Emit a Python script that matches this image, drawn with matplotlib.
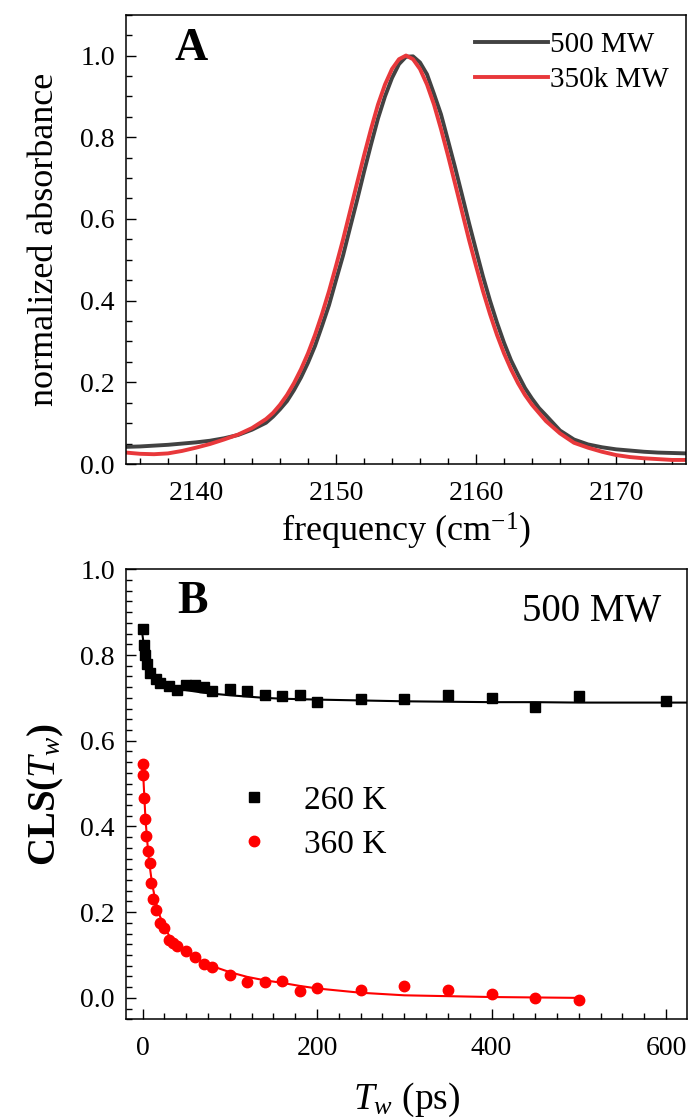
import matplotlib
matplotlib.use("Agg")
import matplotlib.pyplot as plt
from matplotlib.ticker import MultipleLocator

plt.rcParams['font.family'] = ['Liberation Serif', 'DejaVu Serif']
plt.rcParams['mathtext.fontset'] = 'custom'
plt.rcParams['mathtext.rm'] = 'Liberation Serif'
plt.rcParams['mathtext.it'] = 'Liberation Serif:italic'
plt.rcParams['mathtext.bf'] = 'Liberation Serif:bold'

# panel A: IR spectra (1 cm-1 steps in the wings, 0.5 near the peak)
freq = [2135, 2136, 2137, 2138, 2139, 2140, 2141, 2142, 2143, 2144,
        2145, 2145.5, 2146, 2146.5, 2147, 2147.5, 2148, 2148.5, 2149, 2149.5,
        2150, 2150.5, 2151, 2151.5, 2152, 2152.5, 2153, 2153.5, 2154, 2154.5,
        2155, 2155.5, 2156, 2156.5, 2157, 2157.5, 2158, 2158.5, 2159, 2159.5,
        2160, 2160.5, 2161, 2161.5, 2162, 2162.5, 2163, 2163.5, 2164, 2164.5,
        2165, 2166, 2167, 2168, 2169, 2170, 2171, 2172, 2173, 2174, 2175]
abs_500 = [0.042, 0.043, 0.045, 0.047, 0.050, 0.053, 0.057, 0.063, 0.071, 0.084,
           0.101, 0.116, 0.134, 0.154, 0.181, 0.212, 0.248, 0.289, 0.338, 0.389,
           0.450, 0.510, 0.578, 0.645, 0.715, 0.782, 0.846, 0.900, 0.945, 0.979,
           0.997, 0.998, 0.983, 0.954, 0.906, 0.856, 0.792, 0.727, 0.659, 0.590,
           0.524, 0.459, 0.400, 0.346, 0.297, 0.254, 0.219, 0.186, 0.160, 0.137,
           0.119, 0.082, 0.060, 0.048, 0.041, 0.036, 0.033, 0.030, 0.028, 0.027,
           0.026]
abs_350k = [0.028, 0.025, 0.024, 0.026, 0.032, 0.040, 0.049, 0.060, 0.072, 0.088,
            0.110, 0.125, 0.145, 0.169, 0.198, 0.232, 0.271, 0.316, 0.367, 0.423,
            0.485, 0.549, 0.618, 0.687, 0.755, 0.820, 0.880, 0.929, 0.967, 0.991,
            1.000, 0.991, 0.967, 0.929, 0.880, 0.820, 0.755, 0.687, 0.618, 0.549,
            0.485, 0.423, 0.367, 0.316, 0.271, 0.232, 0.198, 0.169, 0.145, 0.125,
            0.105, 0.075, 0.052, 0.040, 0.030, 0.022, 0.017, 0.014, 0.012, 0.010,
            0.010]

# panel B: CLS decays
tw_260 = [0, 2, 3, 5, 8, 15, 20, 30, 40, 50, 60, 70, 80, 100, 120, 140, 160, 180,
          200, 250, 300, 350, 400, 450, 500, 600]
cls_260 = [0.860, 0.824, 0.800, 0.778, 0.758, 0.743, 0.735, 0.727, 0.719, 0.729,
           0.731, 0.725, 0.717, 0.721, 0.715, 0.707, 0.705, 0.707, 0.690, 0.697,
           0.697, 0.707, 0.700, 0.678, 0.705, 0.692]
fit_tw_260 = [0, 1, 2, 3, 5, 8, 15, 20, 30, 40, 50, 60, 70, 80, 100, 120, 140, 160,
              180, 200, 250, 300, 350, 400, 450, 500, 600, 625]
fit_260 = [0.845, 0.830, 0.815, 0.800, 0.780, 0.762, 0.742, 0.735, 0.727, 0.722,
           0.718, 0.715, 0.712, 0.710, 0.706, 0.703, 0.700, 0.698, 0.697, 0.696,
           0.694, 0.692, 0.691, 0.690, 0.690, 0.689, 0.689, 0.689]

tw_360 = [0, 1, 2, 3, 4, 6, 8, 10, 12, 15, 20, 25, 30, 35, 40, 50, 60, 70, 80, 100,
          120, 140, 160, 180, 200, 250, 300, 350, 400, 450, 500]
cls_360 = [0.545, 0.520, 0.466, 0.418, 0.377, 0.343, 0.315, 0.268, 0.231, 0.204,
           0.174, 0.164, 0.136, 0.128, 0.121, 0.110, 0.095, 0.078, 0.072, 0.054,
           0.038, 0.038, 0.039, 0.016, 0.023, 0.019, 0.027, 0.018, 0.008, 0.000,
           -0.004]
fit_360 = [0.550, 0.510, 0.470, 0.430, 0.400, 0.350, 0.310, 0.280, 0.255, 0.225,
           0.190, 0.165, 0.147, 0.134, 0.123, 0.107, 0.094, 0.083, 0.074, 0.060,
           0.049, 0.041, 0.035, 0.028, 0.022, 0.012, 0.006, 0.004, 0.002, 0.001,
           0.000]

gray = '#424242'
red = '#e8383b'

fig = plt.figure(figsize=(6.9, 11.2), dpi=100)
axA = fig.add_axes([0.1826, 0.5857, 0.8116, 0.4012])
axB = fig.add_axes([0.1826, 0.0899, 0.8130, 0.4018])


def style(ax):
    for s in ax.spines.values():
        s.set_linewidth(1.1)
    ax.tick_params(which='both', direction='in', top=False, right=False,
                   labelsize=20, width=1.0, pad=8)
    ax.tick_params(axis='x', which='both', pad=12)
    ax.tick_params(which='major', length=7.5)
    ax.tick_params(which='minor', length=4.5)


# ---- A ----
axA.plot(freq, abs_500, color=gray, lw=2.8, label='500 MW')
axA.plot(freq, abs_350k, color=red, lw=2.8, label='350k MW')
axA.set_xlim(2135, 2175)
axA.set_ylim(0, 1.1)
axA.xaxis.set_major_locator(MultipleLocator(10))
axA.xaxis.set_minor_locator(MultipleLocator(2))
axA.yaxis.set_major_locator(MultipleLocator(0.2))
axA.yaxis.set_minor_locator(MultipleLocator(0.05))
axA.yaxis.set_major_formatter(lambda v, p: f'{v:.1f}')
style(axA)
axA.set_xlabel('frequency (cm$^{-1}$)', fontsize=26, labelpad=4)
axA.set_ylabel('normalized absorbance', fontsize=26, labelpad=14)
axA.text(0.087, 0.899, 'A', transform=axA.transAxes, fontsize=33,
         fontweight='bold')
axA.legend(loc='upper right', bbox_to_anchor=(0.97, 0.962), frameon=False,
           fontsize=21, handlelength=2.5, handletextpad=0.1, labelspacing=0.3,
           borderpad=0, borderaxespad=0)

# ---- B ----
axB.plot(fit_tw_260, fit_260, color='black', lw=1.5)
axB.plot(tw_260, cls_260, 's', color='black', ms=7, ls='none', label='260 K')
axB.plot(tw_360, fit_360, color='#ff0000', lw=1.5)
axB.plot(tw_360, cls_360, 'o', color='#ff0000', ms=7.5, ls='none', label='360 K')
axB.set_xlim(-19, 624)
axB.set_ylim(-0.05, 1.0)
axB.xaxis.set_major_locator(MultipleLocator(200))
axB.xaxis.set_minor_locator(MultipleLocator(25))
axB.yaxis.set_major_locator(MultipleLocator(0.2))
axB.yaxis.set_minor_locator(MultipleLocator(0.025))
axB.yaxis.set_major_formatter(lambda v, p: f'{v:.1f}')
style(axB)
axB.set_xlabel('$T_w$ (ps)', fontsize=27, labelpad=14)
axB.set_ylabel(r'$\mathbf{CLS(}T_w\mathbf{)}$', fontsize=28, labelpad=10)
axB.text(0.091, 0.903, 'B', transform=axB.transAxes, fontsize=33,
         fontweight='bold')
axB.text(0.955, 0.885, '500 MW', transform=axB.transAxes, fontsize=28,
         ha='right')
axB.legend(loc='upper left', bbox_to_anchor=(0.199, 0.52), frameon=False,
           fontsize=24, handlelength=1.0, handletextpad=1.0, labelspacing=0.4,
           borderpad=0, borderaxespad=0)

fig.savefig('out.png', dpi=100)
